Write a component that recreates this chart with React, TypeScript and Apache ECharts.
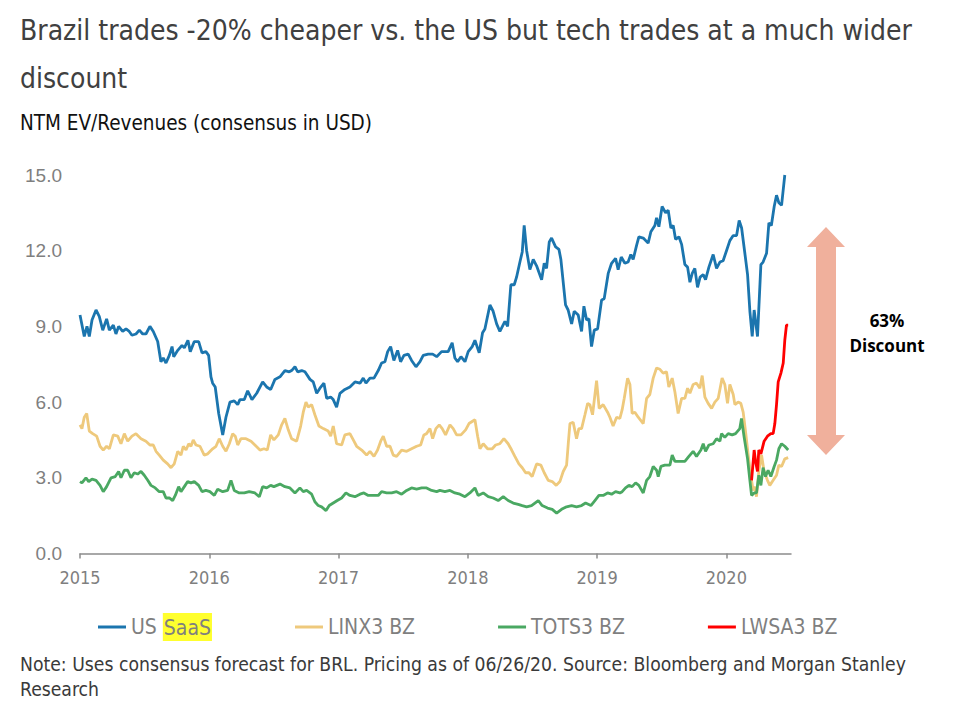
import React, { useEffect, useRef } from "react";
import * as echarts from "echarts";

const titleText = "Brazil trades -20% cheaper vs. the US but tech trades at a much wider\ndiscount";
const subtitleText = "NTM EV/Revenues (consensus in USD)";
const noteText = "Note: Uses consensus forecast for BRL. Pricing as of 06/26/20. Source: Bloomberg and Morgan Stanley\nResearch";
const seriesNames = ["US SaaS", "LINX3 BZ", "TOTS3 BZ", "LWSA3 BZ"];
const seriesColors = ["#1b75ae", "#eec97c", "#4aa862", "#ff0000"];
const xTickYears = [2015, 2016, 2017, 2018, 2019, 2020];
const annotationLines = ["63%", "Discount"];

const usSaas: number[][] = [
  [2015.000,9.45],[2015.033,8.6],[2015.054,9.0],[2015.072,8.6],[2015.093,9.25],[2015.124,9.65],[2015.149,9.4],[2015.176,8.85],[2015.206,9.3],[2015.227,8.85],[2015.258,9.05],[2015.278,8.7],[2015.299,9.0],[2015.330,8.8],[2015.356,8.9],[2015.381,8.8],[2015.402,8.65],[2015.433,8.7],[2015.459,8.85],[2015.485,8.7],[2015.510,8.7],[2015.541,9.0],[2015.567,8.8],[2015.601,8.4],[2015.626,7.6],[2015.644,7.75],[2015.665,7.55],[2015.691,7.85],[2015.712,8.2],[2015.725,7.8],[2015.756,8.05],[2015.789,8.25],[2015.807,8.15],[2015.835,8.45],[2015.853,8.0],[2015.884,8.4],[2015.918,8.4],[2015.944,7.95],[2015.974,8.0],[2015.995,7.85],
  [2016.013,7.0],[2016.026,6.75],[2016.046,6.6],[2016.073,5.55],[2016.104,4.7],[2016.129,5.4],[2016.160,6.0],[2016.193,6.05],[2016.220,5.9],[2016.237,6.1],[2016.271,6.1],[2016.297,6.45],[2016.330,6.1],[2016.367,6.35],[2016.413,6.8],[2016.444,6.6],[2016.475,6.5],[2016.508,6.9],[2016.547,7.0],[2016.585,7.25],[2016.619,7.2],[2016.637,7.25],[2016.663,7.4],[2016.684,7.2],[2016.715,7.25],[2016.740,7.2],[2016.779,6.9],[2016.804,6.8],[2016.831,6.35],[2016.856,6.55],[2016.887,6.75],[2016.908,6.15],[2016.939,6.2],[2016.959,6.1],[2016.985,5.8],
  [2017.011,6.35],[2017.049,6.5],[2017.088,6.6],[2017.127,6.8],[2017.166,6.75],[2017.191,6.95],[2017.212,6.75],[2017.243,6.95],[2017.274,6.95],[2017.307,7.25],[2017.333,7.55],[2017.359,7.6],[2017.380,8.0],[2017.403,8.2],[2017.428,7.65],[2017.457,8.05],[2017.480,7.6],[2017.506,7.85],[2017.539,7.9],[2017.565,7.65],[2017.599,7.4],[2017.630,7.6],[2017.655,7.85],[2017.694,7.9],[2017.728,7.9],[2017.759,7.8],[2017.797,8.0],[2017.848,8.0],[2017.879,8.35],[2017.900,7.75],[2017.921,7.6],[2017.947,7.8],[2017.978,7.6],
  [2018.003,8.0],[2018.034,8.2],[2018.055,8.45],[2018.088,7.95],[2018.114,8.75],[2018.132,8.9],[2018.171,9.85],[2018.196,9.6],[2018.223,9.1],[2018.248,8.8],[2018.287,9.2],[2018.308,9.0],[2018.333,10.65],[2018.359,10.65],[2018.377,10.95],[2018.403,11.55],[2018.421,11.95],[2018.436,13.0],[2018.455,12.0],[2018.480,11.25],[2018.506,11.65],[2018.532,11.4],[2018.571,10.85],[2018.591,11.5],[2018.609,11.3],[2018.630,12.35],[2018.648,12.5],[2018.679,12.15],[2018.705,12.05],[2018.720,11.65],[2018.756,9.85],[2018.776,9.65],[2018.803,9.1],[2018.823,9.6],[2018.854,9.45],[2018.880,8.8],[2018.898,9.8],[2018.919,9.25],[2018.937,9.3],[2018.957,8.2],[2018.978,8.85],
  [2019.004,8.9],[2019.035,10.05],[2019.055,10.1],[2019.086,11.1],[2019.112,11.5],[2019.143,11.7],[2019.163,11.25],[2019.187,11.75],[2019.215,11.5],[2019.240,11.55],[2019.261,11.85],[2019.279,11.65],[2019.305,12.2],[2019.323,12.55],[2019.357,12.5],[2019.395,12.3],[2019.416,12.75],[2019.447,13.0],[2019.460,13.3],[2019.478,12.95],[2019.503,13.75],[2019.530,13.5],[2019.550,13.6],[2019.571,12.9],[2019.589,13.0],[2019.607,12.45],[2019.633,12.55],[2019.654,12.25],[2019.679,11.45],[2019.700,11.35],[2019.718,10.75],[2019.736,11.1],[2019.756,11.3],[2019.777,10.55],[2019.797,10.95],[2019.821,11.05],[2019.839,10.85],[2019.865,11.35],[2019.898,11.85],[2019.924,11.3],[2019.950,11.55],[2019.975,11.6],
  [2020.001,12.0],[2020.027,12.4],[2020.053,12.6],[2020.079,12.6],[2020.099,13.2],[2020.118,12.9],[2020.143,11.9],[2020.164,11.05],[2020.182,9.6],[2020.200,8.6],[2020.215,9.65],[2020.241,8.6],[2020.267,11.45],[2020.284,11.55],[2020.311,11.9],[2020.329,13.1],[2020.348,13.0],[2020.370,13.75],[2020.388,14.2],[2020.406,13.9],[2020.427,13.8],[2020.452,15.0]
];

const linx3: number[][] = [
  [2015.000,5.1],[2015.015,4.95],[2015.033,5.4],[2015.052,5.55],[2015.072,4.85],[2015.098,4.75],[2015.129,4.65],[2015.155,4.25],[2015.180,4.1],[2015.206,4.25],[2015.227,4.15],[2015.258,4.7],[2015.292,4.65],[2015.317,4.35],[2015.343,4.75],[2015.369,4.45],[2015.402,4.65],[2015.433,4.75],[2015.472,4.55],[2015.510,4.45],[2015.541,4.3],[2015.567,4.3],[2015.588,4.05],[2015.613,3.9],[2015.644,3.7],[2015.678,3.55],[2015.704,3.4],[2015.729,3.55],[2015.756,4.05],[2015.781,3.9],[2015.799,4.25],[2015.820,4.1],[2015.841,4.35],[2015.858,4.25],[2015.876,4.5],[2015.897,4.3],[2015.928,4.25],[2015.961,3.9],[2015.988,3.95],
  [2016.026,4.15],[2016.052,4.25],[2016.077,4.55],[2016.104,4.25],[2016.129,4.05],[2016.155,4.35],[2016.181,4.75],[2016.201,4.65],[2016.220,4.3],[2016.245,4.55],[2016.284,4.55],[2016.323,4.45],[2016.353,4.3],[2016.392,4.1],[2016.423,4.15],[2016.449,4.1],[2016.475,4.7],[2016.500,4.5],[2016.534,4.7],[2016.560,5.1],[2016.585,5.35],[2016.611,4.9],[2016.637,4.55],[2016.676,4.45],[2016.707,5.05],[2016.727,5.6],[2016.748,6.0],[2016.766,5.8],[2016.792,5.9],[2016.817,5.5],[2016.848,5.05],[2016.882,4.95],[2016.920,4.85],[2016.939,4.65],[2016.959,5.05],[2016.985,4.35],
  [2017.024,4.3],[2017.049,4.7],[2017.088,4.75],[2017.114,4.5],[2017.140,4.25],[2017.179,4.1],[2017.217,3.9],[2017.243,4.05],[2017.274,3.85],[2017.302,4.1],[2017.326,4.45],[2017.346,4.65],[2017.372,4.25],[2017.398,4.25],[2017.423,3.9],[2017.449,3.85],[2017.488,4.1],[2017.527,4.05],[2017.565,4.15],[2017.604,4.25],[2017.635,4.3],[2017.660,4.7],[2017.681,4.75],[2017.707,4.95],[2017.728,4.55],[2017.753,4.95],[2017.779,5.1],[2017.802,4.95],[2017.828,4.7],[2017.862,5.1],[2017.887,4.95],[2017.913,4.7],[2017.947,4.7],[2017.983,4.9],
  [2018.009,5.15],[2018.055,5.3],[2018.076,4.65],[2018.094,4.15],[2018.119,4.35],[2018.153,4.15],[2018.189,4.15],[2018.215,4.3],[2018.248,4.35],[2018.279,4.55],[2018.312,4.35],[2018.339,4.1],[2018.364,3.85],[2018.395,3.55],[2018.421,3.4],[2018.447,3.2],[2018.473,3.2],[2018.498,3.05],[2018.532,3.55],[2018.565,3.5],[2018.591,3.2],[2018.622,2.9],[2018.653,2.85],[2018.684,2.7],[2018.712,2.85],[2018.738,3.25],[2018.764,3.5],[2018.777,4.35],[2018.790,5.15],[2018.815,5.2],[2018.841,4.55],[2018.859,4.95],[2018.880,4.95],[2018.906,5.5],[2018.927,5.95],[2018.944,5.9],[2018.965,5.5],[2018.996,6.85],
  [2019.016,5.75],[2019.047,5.9],[2019.081,5.6],[2019.099,5.4],[2019.124,5.05],[2019.151,5.4],[2019.176,5.35],[2019.194,5.7],[2019.210,6.15],[2019.236,6.95],[2019.254,6.7],[2019.271,5.55],[2019.292,5.6],[2019.318,5.4],[2019.357,5.15],[2019.383,6.15],[2019.408,6.3],[2019.434,6.95],[2019.460,7.35],[2019.486,7.3],[2019.511,7.15],[2019.537,7.2],[2019.555,6.6],[2019.581,6.95],[2019.602,6.4],[2019.627,5.55],[2019.654,6.15],[2019.679,6.15],[2019.700,6.55],[2019.718,6.35],[2019.743,6.7],[2019.769,6.75],[2019.795,6.55],[2019.813,7.05],[2019.834,6.2],[2019.859,5.95],[2019.886,5.75],[2019.911,6.0],[2019.937,6.15],[2019.967,6.95],[2019.988,6.7],
  [2020.009,5.95],[2020.027,6.7],[2020.053,6.3],[2020.066,5.9],[2020.091,6.0],[2020.112,5.95],[2020.130,5.6],[2020.148,4.85],[2020.169,3.9],[2020.189,3.1],[2020.207,2.5],[2020.220,2.65],[2020.233,2.25],[2020.251,3.25],[2020.272,3.9],[2020.292,3.25],[2020.318,2.9],[2020.336,2.7],[2020.362,2.9],[2020.388,3.1],[2020.406,3.5],[2020.427,3.45],[2020.452,3.75],[2020.478,3.8]
];

const tots3: number[][] = [
  [2015.000,2.85],[2015.015,2.8],[2015.046,3.0],[2015.067,2.85],[2015.093,2.95],[2015.124,2.9],[2015.155,2.7],[2015.180,2.45],[2015.206,2.65],[2015.240,3.0],[2015.273,3.05],[2015.299,3.25],[2015.317,3.0],[2015.343,3.3],[2015.369,3.3],[2015.394,3.0],[2015.420,3.2],[2015.446,3.15],[2015.472,3.25],[2015.497,3.1],[2015.524,2.9],[2015.549,2.7],[2015.582,2.6],[2015.613,2.45],[2015.644,2.45],[2015.665,2.2],[2015.691,2.2],[2015.717,2.1],[2015.737,2.3],[2015.763,2.65],[2015.781,2.45],[2015.807,2.65],[2015.833,2.85],[2015.858,2.8],[2015.884,2.85],[2015.918,2.7],[2015.944,2.45],[2015.974,2.5],
  [2016.005,2.45],[2016.039,2.3],[2016.065,2.55],[2016.104,2.45],[2016.142,2.5],[2016.168,2.9],[2016.193,2.5],[2016.232,2.4],[2016.271,2.4],[2016.309,2.45],[2016.353,2.4],[2016.387,2.25],[2016.413,2.65],[2016.444,2.6],[2016.475,2.7],[2016.500,2.65],[2016.547,2.75],[2016.585,2.65],[2016.624,2.6],[2016.663,2.4],[2016.701,2.6],[2016.727,2.45],[2016.753,2.5],[2016.792,2.35],[2016.817,2.05],[2016.843,1.9],[2016.869,1.85],[2016.903,1.7],[2016.928,1.9],[2016.959,2.0],[2016.990,2.1],
  [2017.024,2.2],[2017.057,2.4],[2017.088,2.3],[2017.127,2.25],[2017.166,2.35],[2017.196,2.4],[2017.230,2.3],[2017.268,2.3],[2017.307,2.3],[2017.333,2.45],[2017.372,2.4],[2017.411,2.4],[2017.449,2.45],[2017.488,2.35],[2017.527,2.5],[2017.565,2.6],[2017.604,2.55],[2017.643,2.6],[2017.681,2.6],[2017.720,2.5],[2017.759,2.45],[2017.784,2.5],[2017.823,2.45],[2017.862,2.5],[2017.900,2.4],[2017.939,2.35],[2017.978,2.25],
  [2018.016,2.4],[2018.055,2.6],[2018.080,2.3],[2018.119,2.4],[2018.158,2.25],[2018.196,2.2],[2018.235,2.1],[2018.274,2.25],[2018.312,2.1],[2018.351,2.0],[2018.390,1.95],[2018.421,1.9],[2018.455,1.85],[2018.493,1.9],[2018.519,2.0],[2018.545,2.1],[2018.575,1.9],[2018.617,1.8],[2018.653,1.75],[2018.687,1.6],[2018.725,1.75],[2018.764,1.85],[2018.803,1.9],[2018.841,1.85],[2018.880,1.9],[2018.911,2.0],[2018.952,1.9],[2018.983,2.1],
  [2019.014,2.3],[2019.047,2.3],[2019.081,2.4],[2019.112,2.35],[2019.143,2.45],[2019.176,2.4],[2019.194,2.45],[2019.220,2.6],[2019.246,2.7],[2019.271,2.65],[2019.298,2.8],[2019.323,2.7],[2019.357,2.4],[2019.383,2.9],[2019.408,3.05],[2019.434,3.45],[2019.460,3.3],[2019.473,3.05],[2019.494,3.45],[2019.524,3.5],[2019.563,3.5],[2019.581,3.9],[2019.602,3.65],[2019.640,3.65],[2019.679,3.65],[2019.710,3.85],[2019.743,4.05],[2019.769,3.85],[2019.803,4.1],[2019.821,4.35],[2019.839,4.05],[2019.865,4.3],[2019.898,4.35],[2019.924,4.55],[2019.950,4.45],[2019.963,4.75],[2019.988,4.6],
  [2020.014,4.75],[2020.045,4.7],[2020.071,4.75],[2020.104,4.95],[2020.117,5.35],[2020.138,4.6],[2020.164,3.75],[2020.182,2.9],[2020.195,2.3],[2020.215,2.4],[2020.233,2.4],[2020.251,3.1],[2020.267,2.7],[2020.284,3.4],[2020.303,3.05],[2020.323,3.3],[2020.344,3.05],[2020.370,3.45],[2020.388,3.7],[2020.406,4.15],[2020.427,4.35],[2020.452,4.25],[2020.478,4.1]
];

const lwsa3: number[][] = [
  [2020.195,2.9],[2020.215,4.1],[2020.226,3.65],[2020.241,3.25],[2020.251,4.1],[2020.267,3.95],[2020.277,4.15],[2020.292,4.45],[2020.318,4.65],[2020.344,4.75],[2020.362,4.75],[2020.375,5.15],[2020.388,5.9],[2020.401,6.8],[2020.422,7.15],[2020.440,7.55],[2020.452,8.45],[2020.465,9.05],[2020.478,9.05]
];

const seriesData = [usSaas, linx3, tots3, lwsa3];

const NARROW = "'DejaVu Sans Condensed', 'Liberation Sans', sans-serif";

export default function App() {
  const ref = useRef<HTMLDivElement>(null);
  useEffect(() => {
    if (!ref.current) return;
    const chart = echarts.init(ref.current, null, { renderer: "svg" });
    const arrowX = 826;
    const arrowTop = 227;
    const arrowBottom = 455;
    chart.setOption({
      animation: false,
      backgroundColor: "#ffffff",
      title: [
        {
          text: titleText,
          left: 20,
          top: 6,
          padding: 0,
          textStyle: { fontFamily: NARROW, fontSize: 28, fontWeight: "normal", color: "#404040", lineHeight: 48 },
        },
        {
          text: subtitleText,
          left: 20,
          top: 112,
          padding: 0,
          textStyle: { fontFamily: NARROW, fontSize: 20.5, fontWeight: "normal", color: "#111111" },
        },
      ],
      grid: { left: 80, right: 187, top: 175, bottom: 168.5, containLabel: false },
      xAxis: {
        type: "value",
        min: 2015,
        max: 2020.5,
        interval: 1,
        splitLine: { show: false },
        axisLine: { show: true, lineStyle: { color: "#8c8c8c", width: 1.5 } },
        axisTick: { show: true, customValues: xTickYears, length: 5, lineStyle: { color: "#8c8c8c", width: 1.5 } },
        axisLabel: {
          customValues: xTickYears,
          formatter: (v: number) => String(Math.round(v)),
          color: "#7f7f7f",
          fontFamily: NARROW,
          fontSize: 18,
          margin: 15,
        },
      },
      yAxis: {
        type: "value",
        min: 0,
        max: 15,
        interval: 3,
        splitLine: { show: false },
        axisLine: { show: false },
        axisTick: { show: false },
        axisLabel: {
          formatter: (v: number) => v.toFixed(1),
          color: "#7f7f7f",
          fontFamily: "'Liberation Sans', Arial, sans-serif",
          fontSize: 19,
          margin: 18,
        },
      },
      legend: {
        left: 98,
        top: 613,
        padding: 0,
        itemWidth: 28,
        itemHeight: 3,
        itemGap: 83,
        icon: "rect",
        data: seriesNames,
        formatter: (name: string) => (name === "US SaaS" ? "US {hl|SaaS}" : name),
        textStyle: {
          color: "#7f7f7f",
          fontFamily: NARROW,
          fontSize: 21,
          rich: {
            hl: {
              color: "#7f7f7f",
              fontFamily: NARROW,
              fontSize: 21,
              backgroundColor: "#ffff2e",
              padding: [4, 1, 3, 1],
            },
          },
        },
      },
      series: seriesNames.map((name, i) => ({
        name,
        type: "line",
        data: seriesData[i],
        showSymbol: false,
        symbol: "none",
        lineStyle: { color: seriesColors[i], width: 2.8 },
        itemStyle: { color: seriesColors[i] },
        z: 2 + i,
      })),
      graphic: [
        {
          type: "polygon",
          shape: {
            points: [
              [arrowX, arrowTop],
              [arrowX + 19, arrowTop + 20],
              [arrowX + 10, arrowTop + 20],
              [arrowX + 10, arrowBottom - 20],
              [arrowX + 19, arrowBottom - 20],
              [arrowX, arrowBottom],
              [arrowX - 19, arrowBottom - 20],
              [arrowX - 10, arrowBottom - 20],
              [arrowX - 10, arrowTop + 20],
              [arrowX - 19, arrowTop + 20],
            ],
          },
          style: { fill: "#f0b09c" },
        },
        {
          type: "text",
          x: 887,
          y: 320,
          style: {
            text: annotationLines[0],
            fill: "#000",
            font: "bold 17px 'Open Sans', Lato, sans-serif",
            align: "center",
            verticalAlign: "middle",
          },
        },
        {
          type: "text",
          x: 887,
          y: 345,
          style: {
            text: annotationLines[1],
            fill: "#000",
            font: "bold 17px 'Open Sans', Lato, sans-serif",
            align: "center",
            verticalAlign: "middle",
          },
        },
        {
          type: "text",
          left: 20,
          top: 652,
          style: {
            text: noteText,
            fill: "#3a3a3a",
            font: "19.2px " + NARROW,
            lineHeight: 25,
          },
        },
      ],
    });
    return () => chart.dispose();
  }, []);
  return (
    <div
      ref={ref}
      style={{ position: "absolute", left: 0, top: 0, width: 978, height: 722, background: "#fff" }}
    />
  );
}
